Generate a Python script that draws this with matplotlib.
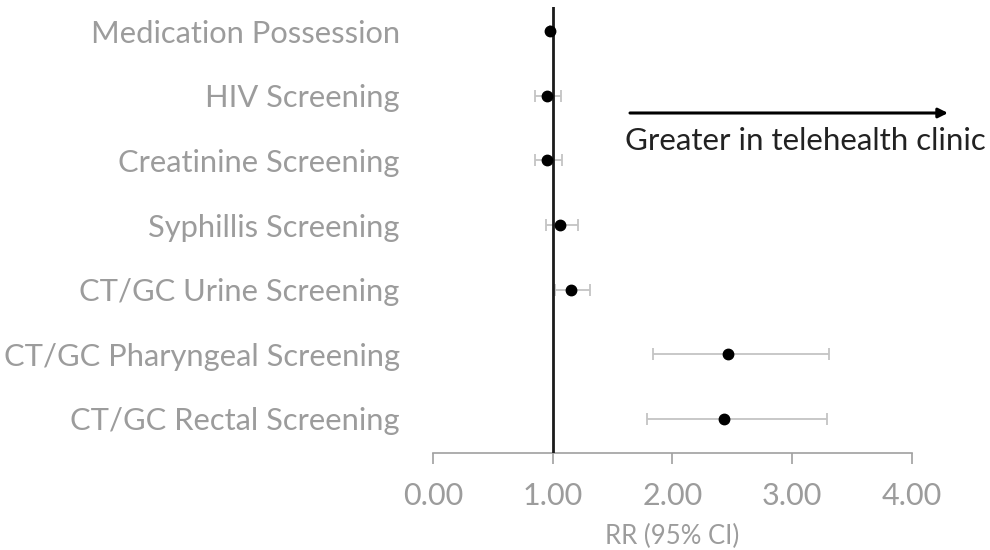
import matplotlib
matplotlib.use("Agg")
import matplotlib.pyplot as plt

categories = ["Medication Possession", "HIV Screening", "Creatinine Screening",
              "Syphillis Screening", "CT/GC Urine Screening",
              "CT/GC Pharyngeal Screening", "CT/GC Rectal Screening"]
rr = [0.98, 0.95, 0.955, 1.065, 1.155, 2.465, 2.43]
ci_low = [0.98, 0.85, 0.85, 0.945, 1.02, 1.84, 1.79]
ci_high = [0.98, 1.07, 1.075, 1.21, 1.315, 3.31, 3.29]
xticks = [0, 1, 2, 3, 4]
xtick_labels = ["0.00", "1.00", "2.00", "3.00", "4.00"]

plt.rcParams['font.family'] = ['Lato', 'DejaVu Sans']

W, H = 990, 550
fig = plt.figure(figsize=(9.9, 5.5), dpi=100)
left, right = 433 / W, 911.5 / W
bottom, top = 1 - 452.6 / H, 1 - 7.3 / H
ax = fig.add_axes([left, bottom, right - left, top - bottom])

n = len(categories)
ypos = [n - i for i in range(n)]
gray = "#9c9c9c"

xerr = [[r - lo for r, lo in zip(rr, ci_low)], [hi - r for r, hi in zip(rr, ci_high)]]
ax.errorbar(rr, ypos, xerr=xerr, fmt='none', ecolor="#c4c4c4", elinewidth=1.3,
            capsize=4, capthick=1.3, zorder=2)
ax.axvline(1, color="#1a1a1a", lw=2, zorder=3)
ax.plot(rr, ypos, 'o', color='black', markersize=7.5, zorder=4)

ax.set_xlim(0, 4)
ax.set_ylim(0.48, 7.37)
ax.set_xticks(xticks)
ax.set_xticklabels(xtick_labels, fontsize=22, color=gray)
ax.set_yticks(ypos)
ax.set_yticklabels(categories, fontsize=22.2, color=gray)
ax.tick_params(axis='y', length=0, pad=24)
ax.tick_params(axis='x', direction='out', length=8, width=1.2, color="#a0a0a0", pad=13)
for s in ['top', 'right', 'left']:
    ax.spines[s].set_visible(False)
ax.spines['bottom'].set_color("#a0a0a0")
ax.spines['bottom'].set_linewidth(1.2)

ax.set_xlabel("RR (95% CI)", fontsize=18.5, color=gray, labelpad=10)

ax.annotate("", xy=(948 / W, 1 - 113 / H), xytext=(630 / W, 1 - 113 / H),
            xycoords='figure fraction', textcoords='figure fraction',
            arrowprops=dict(arrowstyle='-|>', color='black', lw=2.2,
                            mutation_scale=14, shrinkA=0, shrinkB=0))
fig.text(625 / W, 1 - 141 / H, "Greater in telehealth clinic", fontsize=22.5,
         color="#222222", ha='left', va='center')

fig.savefig("out.png", dpi=100, facecolor='white')
